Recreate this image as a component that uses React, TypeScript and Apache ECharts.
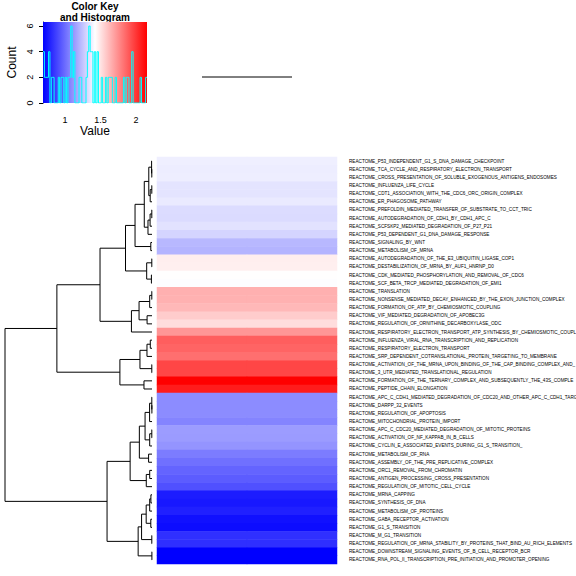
import { useEffect, useRef } from 'react';
import * as echarts from 'echarts';

const rowLabels = [
  'REACTOME_P53_INDEPENDENT_G1_S_DNA_DAMAGE_CHECKPOINT',
  'REACTOME_TCA_CYCLE_AND_RESPIRATORY_ELECTRON_TRANSPORT',
  'REACTOME_CROSS_PRESENTATION_OF_SOLUBLE_EXOGENOUS_ANTIGENS_ENDOSOMES',
  'REACTOME_INFLUENZA_LIFE_CYCLE',
  'REACTOME_CDT1_ASSOCIATION_WITH_THE_CDC6_ORC_ORIGIN_COMPLEX',
  'REACTOME_ER_PHAGOSOME_PATHWAY',
  'REACTOME_PREFOLDIN_MEDIATED_TRANSFER_OF_SUBSTRATE_TO_CCT_TRIC',
  'REACTOME_AUTODEGRADATION_OF_CDH1_BY_CDH1_APC_C',
  'REACTOME_SCFSKP2_MEDIATED_DEGRADATION_OF_P27_P21',
  'REACTOME_P53_DEPENDENT_G1_DNA_DAMAGE_RESPONSE',
  'REACTOME_SIGNALING_BY_WNT',
  'REACTOME_METABOLISM_OF_MRNA',
  'REACTOME_AUTODEGRADATION_OF_THE_E3_UBIQUITIN_LIGASE_COP1',
  'REACTOME_DESTABILIZATION_OF_MRNA_BY_AUF1_HNRNP_D0',
  'REACTOME_CDK_MEDIATED_PHOSPHORYLATION_AND_REMOVAL_OF_CDC6',
  'REACTOME_SCF_BETA_TRCP_MEDIATED_DEGRADATION_OF_EMI1',
  'REACTOME_TRANSLATION',
  'REACTOME_NONSENSE_MEDIATED_DECAY_ENHANCED_BY_THE_EXON_JUNCTION_COMPLEX',
  'REACTOME_FORMATION_OF_ATP_BY_CHEMIOSMOTIC_COUPLING',
  'REACTOME_VIF_MEDIATED_DEGRADATION_OF_APOBEC3G',
  'REACTOME_REGULATION_OF_ORNITHINE_DECARBOXYLASE_ODC',
  'REACTOME_RESPIRATORY_ELECTRON_TRANSPORT_ATP_SYNTHESIS_BY_CHEMIOSMOTIC_COUPL',
  'REACTOME_INFLUENZA_VIRAL_RNA_TRANSCRIPTION_AND_REPLICATION',
  'REACTOME_RESPIRATORY_ELECTRON_TRANSPORT',
  'REACTOME_SRP_DEPENDENT_COTRANSLATIONAL_PROTEIN_TARGETING_TO_MEMBRANE',
  'REACTOME_ACTIVATION_OF_THE_MRNA_UPON_BINDING_OF_THE_CAP_BINDING_COMPLEX_AND_',
  'REACTOME_3_UTR_MEDIATED_TRANSLATIONAL_REGULATION',
  'REACTOME_FORMATION_OF_THE_TERNARY_COMPLEX_AND_SUBSEQUENTLY_THE_43S_COMPLE',
  'REACTOME_PEPTIDE_CHAIN_ELONGATION',
  'REACTOME_APC_C_CDH1_MEDIATED_DEGRADATION_OF_CDC20_AND_OTHER_APC_C_CDH1_TARG',
  'REACTOME_DARPP_32_EVENTS',
  'REACTOME_REGULATION_OF_APOPTOSIS',
  'REACTOME_MITOCHONDRIAL_PROTEIN_IMPORT',
  'REACTOME_APC_C_CDC20_MEDIATED_DEGRADATION_OF_MITOTIC_PROTEINS',
  'REACTOME_ACTIVATION_OF_NF_KAPPAB_IN_B_CELLS',
  'REACTOME_CYCLIN_E_ASSOCIATED_EVENTS_DURING_G1_S_TRANSITION_',
  'REACTOME_METABOLISM_OF_RNA',
  'REACTOME_ASSEMBLY_OF_THE_PRE_REPLICATIVE_COMPLEX',
  'REACTOME_ORC1_REMOVAL_FROM_CHROMATIN',
  'REACTOME_ANTIGEN_PROCESSING_CROSS_PRESENTATION',
  'REACTOME_REGULATION_OF_MITOTIC_CELL_CYCLE',
  'REACTOME_MRNA_CAPPING',
  'REACTOME_SYNTHESIS_OF_DNA',
  'REACTOME_METABOLISM_OF_PROTEINS',
  'REACTOME_GABA_RECEPTOR_ACTIVATION',
  'REACTOME_G1_S_TRANSITION',
  'REACTOME_M_G1_TRANSITION',
  'REACTOME_REGULATION_OF_MRNA_STABILITY_BY_PROTEINS_THAT_BIND_AU_RICH_ELEMENTS',
  'REACTOME_DOWNSTREAM_SIGNALING_EVENTS_OF_B_CELL_RECEPTOR_BCR',
  'REACTOME_RNA_POL_II_TRANSCRIPTION_PRE_INITIATION_AND_PROMOTER_OPENING',
];

const rowValues = [
  1.376, 1.372, 1.374, 1.346, 1.344, 1.362, 1.322, 1.320, 1.339, 1.299,
  1.219, 1.207, 1.471, 1.469, 1.424, 1.418, 1.649, 1.647, 1.626, 1.569,
  1.520, 1.725, 1.885, 1.868, 1.835, 1.955, 1.953, 2.155, 2.075, 1.093,
  1.091, 1.092, 1.069, 1.138, 1.136, 1.115, 1.046, 1.012, 0.977, 0.954,
  0.920, 0.770, 0.759, 0.782, 0.736, 0.724, 0.828, 0.826, 0.690, 0.691,
];

const columns = ['1', '2'];
const keyXTicks = [1, 1.5, 2];
const keyYTicks = [0, 2, 4, 6];
const colorMin = 0.69;
const colorMax = 2.155;
const histBins = 75;

function buildDendrogram(values: number[]) {
  let clusters = values.map((v, i) => ({ min: v, max: v, h: 0, y: i }));
  const segs: number[][] = [];
  while (clusters.length > 1) {
    let best = 0;
    let bd = Infinity;
    for (let i = 0; i < clusters.length - 1; i++) {
      const a = clusters[i];
      const b = clusters[i + 1];
      const d = Math.max(a.max - b.min, b.max - a.min) * Math.SQRT2;
      if (d < bd) { bd = d; best = i; }
    }
    const a = clusters[best];
    const b = clusters[best + 1];
    segs.push([a.h, a.y, bd, b.y, b.h]);
    clusters.splice(best, 2, { min: Math.min(a.min, b.min), max: Math.max(a.max, b.max), h: bd, y: (a.y + b.y) / 2 });
  }
  return { segs, height: clusters[0].h };
}

function buildHistogram(values: number[]) {
  const all: number[] = [];
  values.forEach((v) => columns.forEach(() => all.push(v)));
  const w = (colorMax - colorMin) / histBins;
  const counts = new Array(histBins).fill(0);
  all.forEach((v) => {
    let k = Math.floor((v - colorMin) / w);
    if (k >= histBins) k = histBins - 1;
    if (k < 0) k = 0;
    counts[k]++;
  });
  const pts: number[][] = [];
  for (let i = 0; i <= histBins; i++) {
    pts.push([colorMin + i * w, counts[Math.min(i, histBins - 1)]]);
  }
  return { pts, max: Math.max(...counts) };
}

export default function App() {
  const ref = useRef<HTMLDivElement>(null);
  useEffect(() => {
    if (!ref.current) return;
    const chart = echarts.init(ref.current, undefined, { renderer: 'svg' });
    const dendro = buildDendrogram(rowValues);
    const hist = buildHistogram(rowValues);
    const histTop = hist.max / 0.95;
    const heatData: number[][] = [];
    rowValues.forEach((v, r) => columns.forEach((_, c) => heatData.push([c, r, v])));
    const font = 'Liberation Sans, Arial, Helvetica, sans-serif';
    const g = { containLabel: false, outerBoundsMode: 'none' };

    chart.setOption({
      animation: false,
      backgroundColor: '#fff',
      graphic: [
        {
          type: 'text', x: 95, y: 6.5,
          style: { text: 'Color Key', font: `bold 10px ${font}`, lineHeight: 10, fill: '#000', textAlign: 'center', textVerticalAlign: 'middle' },
        },
        {
          type: 'text', x: 95, y: 17,
          style: { text: 'and Histogram', font: `bold 10px ${font}`, lineHeight: 10, fill: '#000', textAlign: 'center', textVerticalAlign: 'middle' },
        },
      ],
      grid: [
        { ...g, left: 43, top: 22, width: 104, height: 81 },
        { ...g, left: 5, top: 157, width: 147, height: 407 },
        { ...g, left: 157, top: 157, width: 180, height: 407 },
        { ...g, left: 157, top: 27, width: 180, height: 100 },
      ],
      xAxis: [
        {
          gridIndex: 0, type: 'value', min: colorMin, max: colorMax,
          splitLine: { show: false }, axisLine: { show: false }, axisTick: { show: false },
          axisLabel: { customValues: keyXTicks, fontSize: 9, color: '#000', margin: 12, fontFamily: font },
          name: 'Value', nameLocation: 'middle', nameGap: 17,
          nameTextStyle: { fontSize: 12, color: '#000', fontFamily: font },
        },
        { gridIndex: 1, type: 'value', min: 0, max: dendro.height, inverse: true, show: false },
        { gridIndex: 2, type: 'category', data: columns, show: false },
        { gridIndex: 3, type: 'category', data: columns, show: false },
      ],
      yAxis: [
        {
          gridIndex: 0, type: 'value', min: 0, max: histTop,
          splitLine: { show: false },
          axisLine: { show: true, lineStyle: { color: '#000', width: 1 } },
          axisTick: { show: true, customValues: keyYTicks, length: 4, lineStyle: { color: '#000' } },
          axisLabel: { customValues: keyYTicks, fontSize: 9, color: '#000', rotate: 90, margin: 9, fontFamily: font },
          name: 'Count', nameLocation: 'middle', nameGap: 25, nameRotate: 90,
          nameTextStyle: { fontSize: 12, color: '#000', fontFamily: font },
        },
        { gridIndex: 1, type: 'value', min: -0.5, max: rowValues.length - 0.5, inverse: true, show: false },
        {
          gridIndex: 2, type: 'category', data: rowLabels, inverse: true, position: 'right',
          axisLine: { show: false }, axisTick: { show: false },
          axisLabel: { interval: 0, fontSize: 4.65, margin: 12, color: '#000', fontFamily: font },
        },
        { gridIndex: 3, type: 'value', min: -1, max: 1, show: false },
      ],
      visualMap: {
        show: false, type: 'continuous', min: colorMin, max: colorMax, seriesIndex: 3,
        inRange: { color: ['#0000FF', '#FFFFFF', '#FF0000'] },
      },
      series: [
        {
          type: 'custom', xAxisIndex: 0, yAxisIndex: 0, silent: true, z: 1,
          data: [[colorMin, colorMax, histTop]],
          renderItem: (params: any, api: any) => {
            const p1 = api.coord([api.value(0), api.value(2)]);
            const p2 = api.coord([api.value(1), 0]);
            return {
              type: 'rect',
              shape: { x: p1[0], y: p1[1], width: p2[0] - p1[0], height: p2[1] - p1[1] },
              style: {
                fill: new echarts.graphic.LinearGradient(0, 0, 1, 0, [
                  { offset: 0, color: '#0000FF' },
                  { offset: 0.5, color: '#FFFFFF' },
                  { offset: 1, color: '#FF0000' },
                ]),
              },
            };
          },
        },
        {
          type: 'line', xAxisIndex: 0, yAxisIndex: 0, step: 'end', symbol: 'none', z: 3,
          data: hist.pts, lineStyle: { color: '#00FFFF', width: 1 },
        },
        {
          type: 'custom', xAxisIndex: 1, yAxisIndex: 1, silent: true, clip: false,
          data: dendro.segs,
          renderItem: (params: any, api: any) => {
            const p1 = api.coord([api.value(0), api.value(1)]);
            const p2 = api.coord([api.value(2), api.value(1)]);
            const p3 = api.coord([api.value(2), api.value(3)]);
            const p4 = api.coord([api.value(4), api.value(3)]);
            return {
              type: 'polyline',
              shape: { points: [p1, p2, p3, p4] },
              style: { stroke: '#000', lineWidth: 1, fill: null },
            };
          },
        },
        {
          type: 'heatmap', xAxisIndex: 2, yAxisIndex: 2, data: heatData,
          itemStyle: { borderWidth: 0 },
        },
        {
          type: 'line', xAxisIndex: 3, yAxisIndex: 3, symbol: 'none',
          data: columns.map(() => 0), lineStyle: { color: '#000', width: 1 },
        },
      ],
    });
    return () => chart.dispose();
  }, []);
  return <div ref={ref} style={{ position: 'absolute', left: 0, top: 0, width: 576, height: 576 }} />;
}
